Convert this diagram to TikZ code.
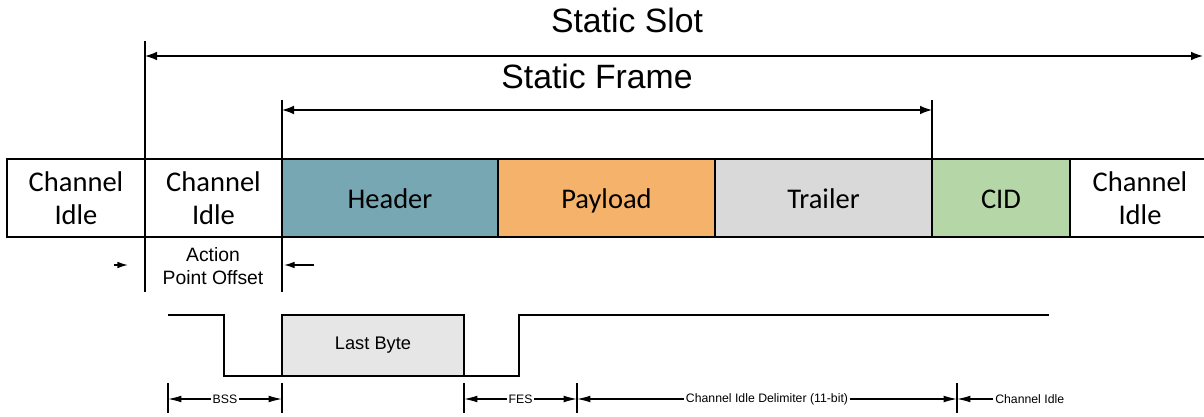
\documentclass[tikz,border=0pt]{standalone}
\usepackage{fontspec}
\setmainfont{Liberation Sans}
\newfontfamily\cellfont{Carlito}
\usepackage{xcolor}
\usetikzlibrary{positioning,arrows.meta}

\definecolor{hdrcol}{HTML}{78A7B4}
\definecolor{paycol}{HTML}{F5B26B}
\definecolor{trlcol}{HTML}{D9D9D9}
\definecolor{cidcol}{HTML}{B5D7A8}
\definecolor{bytecol}{HTML}{E6E6E6}

\begin{document}
\begin{tikzpicture}[x=0.75pt,y=-0.75pt,
    cell/.style={draw,line width=1.1pt,minimum width=#1,minimum height=58.5pt,inner sep=0pt,outer sep=0pt,align=center,font=\cellfont\fontsize{21.4}{24.75}\selectfont},
    field/.style={cell=#1,text height=16.5pt,text depth=0pt},
    title/.style={font=\fontsize{25.3}{30}\selectfont},
    marker/.style={line width=1pt},
    span/.style={{Latex[length=9pt,width=6.5pt]}-{Latex[length=9pt,width=6.5pt]},line width=1pt},
    dimline/.style={{Latex[length=10pt,width=5pt]}-{Latex[length=10pt,width=5pt]},line width=0.8pt},
    dimlbl/.style={fill=white,inner sep=1.5pt,font=\fontsize{9.2}{11}\selectfont},
    wave/.style={line width=1.1pt}]
  \useasboundingbox (0,0) rectangle (1204,417);

  \node (idle1) [cell=103.5pt,anchor=north west] at (7,159) {Channel\\Idle};
  \node (idle2) [cell=102.75pt,right=0pt of idle1] {Channel\\Idle};
  \node (hdr) [field=162pt,fill=hdrcol,right=0pt of idle2] {Header};
  \node (pay) [field=162.75pt,fill=paycol,right=0pt of hdr] {Payload};
  \node (trl) [field=162.75pt,fill=trlcol,right=0pt of pay] {Trailer};
  \node (cid) [field=103.5pt,fill=cidcol,right=0pt of trl] {CID};
  \node (idle3) [cell=105pt,right=0pt of cid] {Channel\\Idle};

  \node (slot) [title] at (627,20) {Static Slot};
  \node (frame) [title] at (597,76) {Static Frame};

  \coordinate (slotTop) at (145,41);
  \coordinate (apoL) at (145,292);
  \coordinate (frameTop) at (282,100);
  \coordinate (apoR) at (282,292);
  \coordinate (frameEnd) at (932,100);
  \draw[marker] (slotTop) -- (apoL);
  \draw[marker] (frameTop) -- (apoR);
  \draw[marker] (frameEnd) -- (cid.north west);

  \coordinate (slotA) at (145,56);
  \coordinate (slotB) at (1203,56);
  \coordinate (frameA) at (282,110);
  \coordinate (frameB) at (932,110);
  \draw[span] (slotA) -- (slotB);
  \draw[span] (frameA) -- (frameB);

  \node (apo) [align=center,font=\fontsize{14.5}{17}\selectfont] at (213,266) {Action\\Point Offset};
  \coordinate (apoInL) at (114,265);
  \coordinate (apoTipL) at (128,265);
  \coordinate (apoInR) at (314,265);
  \coordinate (apoTipR) at (284,265);
  \draw[-{Latex[length=8pt,width=5pt]},line width=1pt] (apoInL) -- (apoTipL);
  \draw[-{Latex[length=8pt,width=5pt]},line width=1pt] (apoInR) -- (apoTipR);

  \node (last) [draw,fill=bytecol,line width=1.1pt,minimum width=136.5pt,minimum height=45.75pt,outer sep=0pt,font=\fontsize{13.7}{16}\selectfont] at (373,345.5) {Last Byte};
  \coordinate (w0) at (168,315);
  \coordinate (w1) at (224,376);
  \coordinate (w2) at (519,376);
  \coordinate (wEnd) at (1049,315);
  \draw[wave] (w0) -| (w1) -- (last.south west);
  \draw[wave] (last.south east) -- (w2) |- (wEnd);

  \foreach \x/\n in {168/t1,282/t2,464/t3,577/t4,957/t5}{
    \coordinate (\n) at (\x,399);
    \draw[line width=0.8pt] (\x,383) -- (\x,413);
  }
  \draw[dimline] (t1) -- node[dimlbl] {BSS} (t2);
  \draw[dimline] (t3) -- node[dimlbl] {FES} (t4);
  \draw[dimline] (t4) -- node[dimlbl] {Channel Idle Delimiter (11-bit)} (t5);
  \node (idleLbl) [dimlbl,anchor=west] at (993,399) {Channel Idle};
  \draw[-{Latex[length=10pt,width=5pt]},line width=0.8pt] (idleLbl.west) -- (t5);
\end{tikzpicture}
\end{document}
